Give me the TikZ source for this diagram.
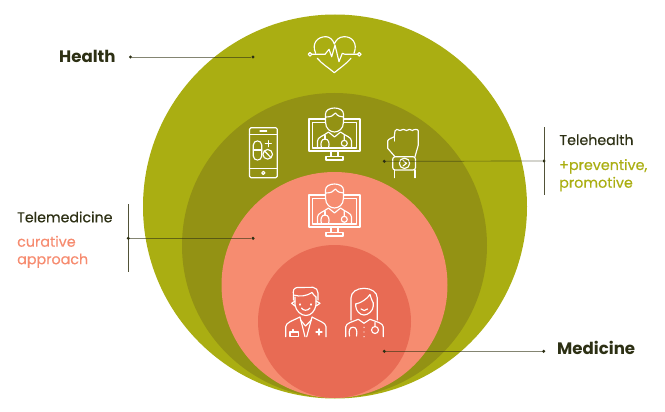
\documentclass[tikz,border=0pt]{standalone}
\usepackage{fontspec}
\setmainfont{Poppins}
\newfontfamily\medfont[FakeBold=0.45]{Poppins}
\definecolor{olive}{RGB}{170,174,18}
\definecolor{darkolive}{RGB}{147,146,20}
\definecolor{salmon}{RGB}{246,140,112}
\definecolor{deepsalmon}{RGB}{232,107,84}
\definecolor{inkdark}{RGB}{45,48,20}
\definecolor{leader}{RGB}{50,52,20}
\tikzset{
  icon/.style={draw=white,line width=1.15pt,line cap=round,line join=round},
  leaderline/.style={draw=leader,line width=0.7pt,draw opacity=.6},
  bar/.style={draw=leader,line width=0.9pt,draw opacity=.85},
  dotnode/.style={circle,fill=inkdark,inner sep=0pt,minimum size=3.4pt},
  head/.style={font=\fontsize{14.2pt}{17pt}\medfont\color{inkdark},anchor=base west,inner sep=0pt},
  headbig/.style={font=\fontsize{16.6pt}{19pt}\bfseries\color{inkdark},anchor=base west,inner sep=0pt},
  sub/.style={font=\fontsize{14.3pt}{17.7pt}\medfont,anchor=base west,inner sep=0pt},
  pics/monitordoc/.style={code={
    \draw[icon] (-9,-16) -- (-25.5,-16) -- (-25.5,16) -- (25.5,16) -- (25.5,-16) -- (9,-16);
    \draw[icon] (-9,-12.5) -- (-22,-12.5) -- (-22,13) -- (22,13) -- (22,-12.5) -- (9,-12.5);
    \draw[icon] (-3.5,16) -- (-3.5,21.5) (3.5,16) -- (3.5,21.5);
    \draw[icon] (-8.5,21.5) -- (8.5,21.5) -- (8.5,25) -- (-8.5,25) -- cycle;
    % head
    \draw[icon] (-9,-13) -- (-9,-21) .. controls (-9,-29) and (9,-29) .. (9,-21) -- (9,-13) .. controls (9,-6) and (4,-3) .. (0,-3) .. controls (-4,-3) and (-9,-6) .. (-9,-13) -- cycle;
    \draw[icon] (-9,-18) .. controls (-4,-18) and (-1,-19) .. (1,-22) .. controls (3,-19) and (6,-18) .. (9,-18);
    % shoulders
    \draw[icon] (-17,13) -- (-17,6) .. controls (-17,2) and (-11,1) .. (-6,-3) -- (0,2) -- (6,-3) .. controls (11,1) and (17,2) .. (17,6) -- (17,13);
    % stethoscope
    \draw[icon] (-13,13) .. controls (-14.5,8) and (-13,4) .. (-9.5,4) .. controls (-6,4) and (-4.5,8) .. (-6,13);
    \draw[icon] (-9.5,4) -- (-9.5,0.5);
    \draw[icon] (9.8,8.3) circle (3) (9.8,5.3) -- (9.8,0.5);
  }},
}
\begin{document}
\begin{tikzpicture}[x=1pt,y=-1pt]
\useasboundingbox (0,0) rectangle (665,412);
% circles
\fill[olive] (335,206.5) circle (192);
\fill[darkolive] (334.5,245.5) circle (152.5);
\fill[salmon] (334.5,285) circle (113);
\fill[deepsalmon] (334.5,321.5) circle (76.5);
% heart
\draw[icon] (311.8,54.3) -- (325,54.3) -- (329,49.3) -- (331.7,56.7) -- (335,45) -- (339,61.7) -- (342.3,53.3) -- (345,54.3) -- (357.4,54.3);
\draw[icon] (310,54.3) circle (1.8) (359.3,54.3) circle (1.8);
\draw[icon] (315.7,53.3) .. controls (311,43) and (318,36.5) .. (326,36.7) .. controls (330,36.8) and (333,40) .. (334.3,44) .. controls (336,40) and (339,36.8) .. (344,36.7) .. controls (352,36.5) and (358,43) .. (354,53.3);
\draw[icon] (317.3,58.3) .. controls (322,64) and (329,68) .. (334.3,72.7) .. controls (340,68) and (346,64) .. (351,58.3);
% phone
\draw[icon,rounded corners=1.5pt] (249.5,127.7) rectangle (277.3,177.7);
\draw[icon] (249.5,134.3) -- (277.3,134.3) (249.5,168.3) -- (277.3,168.3) (260,131) -- (266.7,131);
\draw[icon] (263.3,172.9) circle (1.6);
\draw[icon] (253.3,145) .. controls (253.3,139.6) and (261.7,139.6) .. (261.7,145) -- (261.7,156) .. controls (261.7,161.4) and (253.3,161.4) .. (253.3,156) -- cycle;
\draw[icon] (253.3,150) -- (261.7,150);
\draw[icon] (267.7,154.3) circle (4.8) (264.5,151) -- (271,157.6);
\draw[icon] (268.3,140.7) -- (268.3,146.7) (265.3,143.7) -- (271.3,143.7);
% monitors
\pic at (334.5,135) {monitordoc};
\pic at (334.5,211) {monitordoc};
% fist and watch
\draw[icon] (395,156.7) -- (387.7,148.3) -- (387.7,141) .. controls (388,139) and (392,138) .. (394.3,136.7) -- (395,131) .. controls (395,129) and (398,129) .. (400,130.5) .. controls (402,129) and (405,129) .. (406.5,130.5) .. controls (408,129) and (411,129) .. (412.5,130.5) .. controls (414,129) and (418.3,129) .. (418.3,131) -- (418.3,145) -- (415,156.7);
\draw[icon] (394.3,136.7) -- (394.3,141);
\draw[icon,rounded corners=2.5pt] (392.7,156.7) rectangle (415.5,170);
\draw[icon] (404.5,163.3) circle (5.2);
\draw[icon] (403,160.5) -- (406.5,163.3) -- (403,166);
\draw[icon] (394.3,170) -- (394.3,177.7) (415,170) -- (415,177.7);
% male doctor
\draw[icon] (295,297) -- (295,305) .. controls (296,311) and (301,315.5) .. (306,315.5) .. controls (311,315.5) and (315,311) .. (316,305) -- (316,297);
\draw[icon] (293.5,300) -- (293.3,292) .. controls (293,288) and (297,287) .. (300,287.5) -- (313,287.3) .. controls (316,287.5) and (318,290) .. (318,293) -- (318,300) (293.5,295) .. controls (300,297) and (307,296) .. (312,292.5) .. controls (313,294) and (314.5,296) .. (316,297);
\draw[icon] (295,301) -- (291.7,303.3) -- (295,306) (316,301) -- (320,303.3) -- (316,306);
\draw[icon] (301.5,308) .. controls (303,311) and (308,311) .. (310,308);
\draw[icon] (300,304) -- (300,305) (311,304) -- (311,305);
\draw[icon] (285.7,336.7) -- (285.7,326.7) .. controls (286,322.5) and (292,321) .. (300,317) -- (305,336.7) (306.7,336.7) -- (312,317) .. controls (319,321) and (325.7,322.5) .. (326,326.7) -- (326,336.7);
\draw[icon] (300.5,320) -- (305.5,326) -- (311.5,320);
\draw[icon] (290,332) -- (298.3,332) -- (298.3,336.7) -- (290,336.7) -- cycle (293,332) -- (293,329.5);
\draw[icon] (319,329) -- (319,335) (316,332) -- (322,332);
% female doctor
\draw[icon] (351,320) -- (351,298) .. controls (351,292) and (357,288.3) .. (364,288.3) .. controls (371,288.3) and (377.3,292) .. (377.3,298) -- (377.3,320);
\draw[icon] (355.7,304) .. controls (361,303) and (367,299) .. (370,294.5) .. controls (371,298) and (372,301) .. (373.3,303);
\draw[icon] (355.7,304) -- (355.7,306) .. controls (356,311) and (360,315) .. (364,315) .. controls (368,315) and (373,311) .. (373.3,306) -- (373.3,303);
\draw[icon] (361,309) .. controls (362.5,311) and (366,311) .. (367.5,309);
\draw[icon] (345.7,336.7) -- (345.7,327) .. controls (346,323) and (352,322) .. (358.3,319.3) -- (364,323.3) -- (370,319.3) .. controls (377,322) and (383,323) .. (383.3,327) -- (383.3,336.7);
\draw[icon] (349.5,336) .. controls (348.5,331) and (349.5,327.2) .. (353,327.2) .. controls (356.5,327.2) and (357.5,331) .. (356.5,336);
\draw[icon] (375,330) circle (3.5) (375,326.5) -- (375,322.5);
\fill[white] (364,327.3) circle (0.7) (364,332) circle (0.7) (364,336.7) circle (0.7);
% leaders
\node[dotnode] (dh1) at (130.5,57) {};
\node[dotnode] (dh2) at (253,57) {};
\draw[leaderline] (dh1) -- (dh2);
\node[dotnode] (dt1) at (544,161) {};
\node[dotnode] (dt2) at (384.3,161.3) {};
\draw[leaderline] (dt1) -- (dt2);
\node[dotnode] (dm1) at (128.3,238.3) {};
\node[dotnode] (dm2) at (253,238.3) {};
\draw[leaderline] (dm1) -- (dm2);
\node[dotnode] (dd1) at (384.3,351.3) {};
\node[dotnode] (dd2) at (543.7,351.3) {};
\draw[leaderline] (dd1) -- (dd2);
\coordinate (b1) at (128.3,204.3); \coordinate (b2) at (128.3,271.7);
\coordinate (b3) at (544,127.3); \coordinate (b4) at (544,195);
\draw[bar] (b1) -- (b2);
\draw[bar] (b3) -- (b4);
% labels
\node[headbig] (health) at (59,62.5) {Health};
\node[headbig] (medicine) at (557,354.5) {Medicine};
\node[head] (tele) at (17,222.3) {Telemedicine};
\node[head] (thh) at (559.3,145) {Telehealth};
\node[sub,text=salmon] (cur1) at (17,246.7) {curative};
\node[sub,text=salmon] (cur2) at (17,264.2) {approach};
\node[sub,text=olive] (prev1) at (559,170) {+preventive,};
\node[sub,text=olive] (prev2) at (559,187.7) {promotive};
\end{tikzpicture}
\end{document}
